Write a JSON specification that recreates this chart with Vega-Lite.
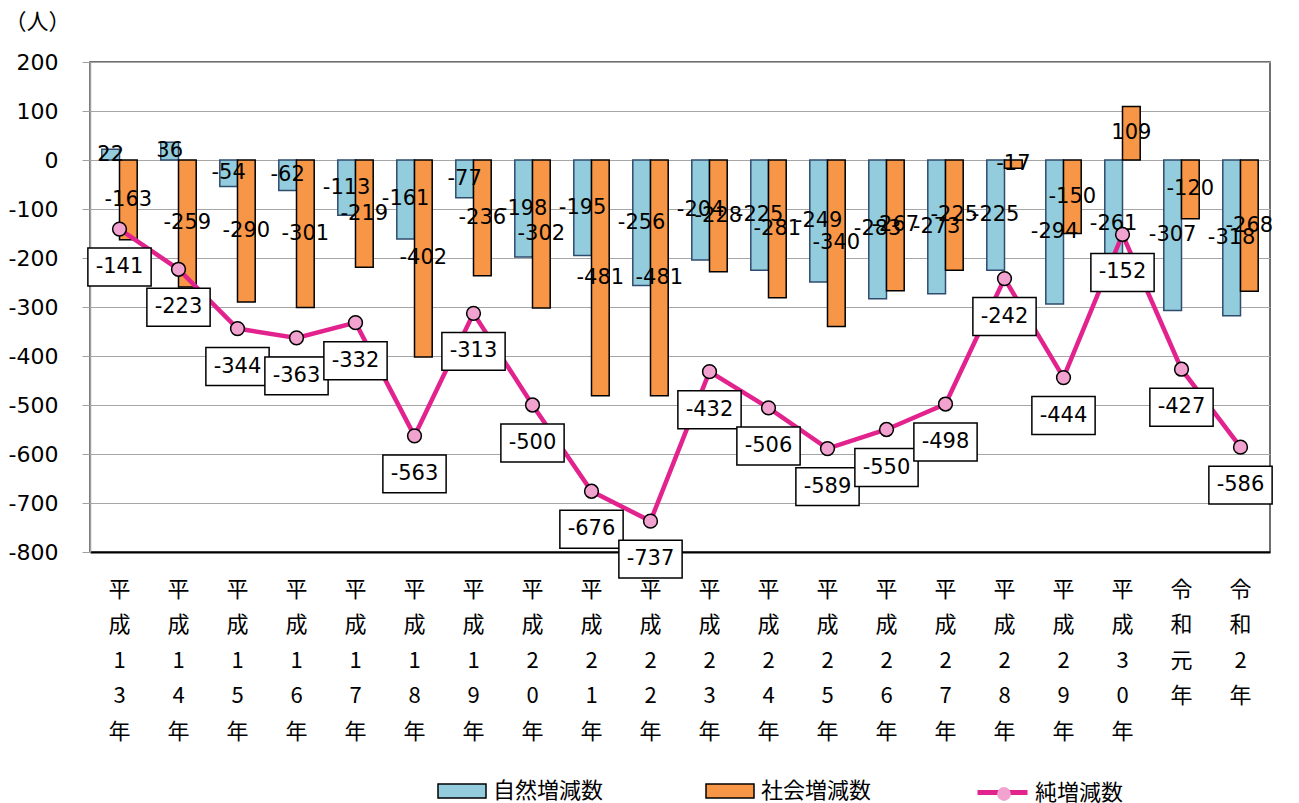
{
  "$schema": "https://vega.github.io/schema/vega-lite/v6.json",
  "width": 1180,
  "height": 490,
  "autosize": {"type": "none"},
  "padding": {"left": 90, "top": 62, "right": 29, "bottom": 251},
  "config": {
    "font": "DejaVu Sans, Noto Sans CJK JP",
    "view": {"stroke": "#404040", "strokeWidth": 1.5},
    "legend": {"padding": 0, "labelFont": "Noto Sans CJK JP", "labelFontSize": 22, "labelColor": "#000000"}
  },
  "datasets": {
    "bars": [
      {"year": "平成13年", "series": "自然増減数", "value": 22},
      {"year": "平成13年", "series": "社会増減数", "value": -163},
      {"year": "平成14年", "series": "自然増減数", "value": 36},
      {"year": "平成14年", "series": "社会増減数", "value": -259},
      {"year": "平成15年", "series": "自然増減数", "value": -54},
      {"year": "平成15年", "series": "社会増減数", "value": -290},
      {"year": "平成16年", "series": "自然増減数", "value": -62},
      {"year": "平成16年", "series": "社会増減数", "value": -301},
      {"year": "平成17年", "series": "自然増減数", "value": -113},
      {"year": "平成17年", "series": "社会増減数", "value": -219},
      {"year": "平成18年", "series": "自然増減数", "value": -161},
      {"year": "平成18年", "series": "社会増減数", "value": -402},
      {"year": "平成19年", "series": "自然増減数", "value": -77},
      {"year": "平成19年", "series": "社会増減数", "value": -236},
      {"year": "平成20年", "series": "自然増減数", "value": -198},
      {"year": "平成20年", "series": "社会増減数", "value": -302},
      {"year": "平成21年", "series": "自然増減数", "value": -195},
      {"year": "平成21年", "series": "社会増減数", "value": -481},
      {"year": "平成22年", "series": "自然増減数", "value": -256},
      {"year": "平成22年", "series": "社会増減数", "value": -481},
      {"year": "平成23年", "series": "自然増減数", "value": -204},
      {"year": "平成23年", "series": "社会増減数", "value": -228},
      {"year": "平成24年", "series": "自然増減数", "value": -225},
      {"year": "平成24年", "series": "社会増減数", "value": -281},
      {"year": "平成25年", "series": "自然増減数", "value": -249},
      {"year": "平成25年", "series": "社会増減数", "value": -340},
      {"year": "平成26年", "series": "自然増減数", "value": -283},
      {"year": "平成26年", "series": "社会増減数", "value": -267},
      {"year": "平成27年", "series": "自然増減数", "value": -273},
      {"year": "平成27年", "series": "社会増減数", "value": -225},
      {"year": "平成28年", "series": "自然増減数", "value": -225},
      {"year": "平成28年", "series": "社会増減数", "value": -17},
      {"year": "平成29年", "series": "自然増減数", "value": -294},
      {"year": "平成29年", "series": "社会増減数", "value": -150},
      {"year": "平成30年", "series": "自然増減数", "value": -261},
      {"year": "平成30年", "series": "社会増減数", "value": 109},
      {"year": "令和元年", "series": "自然増減数", "value": -307},
      {"year": "令和元年", "series": "社会増減数", "value": -120},
      {"year": "令和2年", "series": "自然増減数", "value": -318},
      {"year": "令和2年", "series": "社会増減数", "value": -268}
    ],
    "net": [
      {"year": "平成13年", "value": -141},
      {"year": "平成14年", "value": -223},
      {"year": "平成15年", "value": -344},
      {"year": "平成16年", "value": -363},
      {"year": "平成17年", "value": -332},
      {"year": "平成18年", "value": -563},
      {"year": "平成19年", "value": -313},
      {"year": "平成20年", "value": -500},
      {"year": "平成21年", "value": -676},
      {"year": "平成22年", "value": -737},
      {"year": "平成23年", "value": -432},
      {"year": "平成24年", "value": -506},
      {"year": "平成25年", "value": -589},
      {"year": "平成26年", "value": -550},
      {"year": "平成27年", "value": -498},
      {"year": "平成28年", "value": -242},
      {"year": "平成29年", "value": -444},
      {"year": "平成30年", "value": -152},
      {"year": "令和元年", "value": -427},
      {"year": "令和2年", "value": -586}
    ]
  },
  "encoding": {
    "x": {
      "field": "year",
      "type": "nominal",
      "scale": {
        "domain": ["平成13年","平成14年","平成15年","平成16年","平成17年","平成18年","平成19年","平成20年","平成21年","平成22年","平成23年","平成24年","平成25年","平成26年","平成27年","平成28年","平成29年","平成30年","令和元年","令和2年"],
        "paddingInner": 0.4,
        "paddingOuter": 0.2
      },
      "axis": {
        "title": null,
        "labelAngle": 0,
        "ticks": false,
        "domain": true,
        "domainColor": "#000000",
        "domainWidth": 2,
        "labelExpr": "split(datum.label, '')",
        "labelFont": "Noto Sans CJK JP",
        "labelFontSize": 22,
        "labelColor": "#000000",
        "labelLineHeight": 35.5,
        "labelBaseline": "top",
        "labelPadding": 27
      }
    },
    "y": {
      "field": "value",
      "type": "quantitative",
      "scale": {"domain": [-800, 200], "nice": false},
      "axis": {
        "values": [-800, -700, -600, -500, -400, -300, -200, -100, 0, 100, 200],
        "labelExpr": "replace(datum.label, '−', '-')",
        "grid": true,
        "gridColor": "#A6A6A6",
        "gridWidth": 1,
        "domainColor": "#A0A0A0",
        "domainWidth": 1.5,
        "tickColor": "#A0A0A0",
        "tickSize": 8,
        "labelFontSize": 22,
        "labelColor": "#000000",
        "labelPadding": 24,
        "title": "（人）",
        "titleAngle": 0,
        "titleAlign": "left",
        "titleBaseline": "middle",
        "titleX": -86,
        "titleY": -41,
        "titleFont": "Noto Sans CJK JP",
        "titleFontSize": 22,
        "titleFontWeight": "normal",
        "titleColor": "#000000"
      }
    }
  },
  "layer": [
    {
      "data": {"name": "bars"},
      "mark": {"type": "bar", "strokeWidth": 1.5},
      "encoding": {
        "xOffset": {"field": "series", "type": "nominal", "scale": {"domain": ["自然増減数", "社会増減数"]}},
        "color": {
          "field": "series",
          "type": "nominal",
          "scale": {"domain": ["自然増減数", "社会増減数"], "range": ["#93CDDD", "#F79646"]},
          "legend": {
            "orient": "none",
            "legendX": 347,
            "legendY": 704,
            "direction": "horizontal",
            "title": null,
            "symbolType": "M-1,-0.29H1V0.29H-1Z",
            "symbolSize": 2304,
            "symbolStrokeWidth": 1.5,
            "symbolOpacity": 1,
            "labelOffset": 6,
            "columnPadding": 99,
            "encode": {"symbols": {"update": {"stroke": {"signal": "datum.value === '自然増減数' ? '#2F4B6E' : '#000000'"}}}}
          }
        },
        "stroke": {"condition": {"test": "datum.series === '自然増減数'", "value": "#2F4B6E"}, "value": "#000000"}
      }
    },
    {
      "data": {"values": [{}]},
      "mark": {"type": "rule", "strokeWidth": 3.5, "color": "#000000"},
      "encoding": {"x": null, "y": {"datum": 0}}
    },
    {
      "data": {"name": "bars"},
      "transform": [{"calculate": "datum.value / 2", "as": "mid"}],
      "mark": {"type": "text", "fontSize": 21, "color": "#000000", "baseline": "middle"},
      "encoding": {
        "xOffset": {"field": "series", "type": "nominal", "scale": {"domain": ["自然増減数", "社会増減数"]}},
        "y": {"field": "mid", "type": "quantitative"},
        "text": {"field": "value", "type": "nominal"}
      }
    },
    {
      "data": {"name": "net"},
      "mark": {"type": "line", "strokeWidth": 4.5},
      "encoding": {
        "stroke": {
          "datum": "純増減数",
          "scale": {"range": ["#E2238E"]},
          "legend": {
            "orient": "none",
            "legendX": 885,
            "legendY": 703,
            "title": null,
            "symbolType": "stroke",
            "symbolSize": 2500,
            "symbolStrokeWidth": 5,
            "labelOffset": 5
          }
        }
      }
    },
    {
      "data": {"name": "net"},
      "mark": {"type": "point", "filled": true, "fill": "#F2A2CF", "stroke": "#000000", "strokeWidth": 1.5, "size": 190, "opacity": 1},
      "encoding": {
        "shape": {
          "datum": "純増減数 ",
          "scale": {"range": ["circle"]},
          "legend": {
            "orient": "none",
            "legendX": 903,
            "legendY": 721,
            "title": null,
            "symbolSize": 190,
            "symbolFillColor": "#F2A2CF",
            "symbolStrokeColor": "#000000",
            "symbolStrokeWidth": 1.5,
            "symbolOpacity": 1,
            "labelExpr": "''",
            "labelColor": "transparent"
          }
        }
      }
    },
    {
      "data": {"name": "net"},
      "mark": {"type": "point", "shape": "M-1,-0.6H1V0.6H-1Z", "size": 4000, "filled": true, "fill": "#FFFFFF", "stroke": "#000000", "strokeWidth": 1.5, "opacity": 1, "yOffset": 38}
    },
    {
      "data": {"name": "net"},
      "mark": {"type": "text", "fontSize": 21, "color": "#000000", "baseline": "middle", "yOffset": 38},
      "encoding": {"text": {"field": "value", "type": "nominal"}}
    }
  ]
}
